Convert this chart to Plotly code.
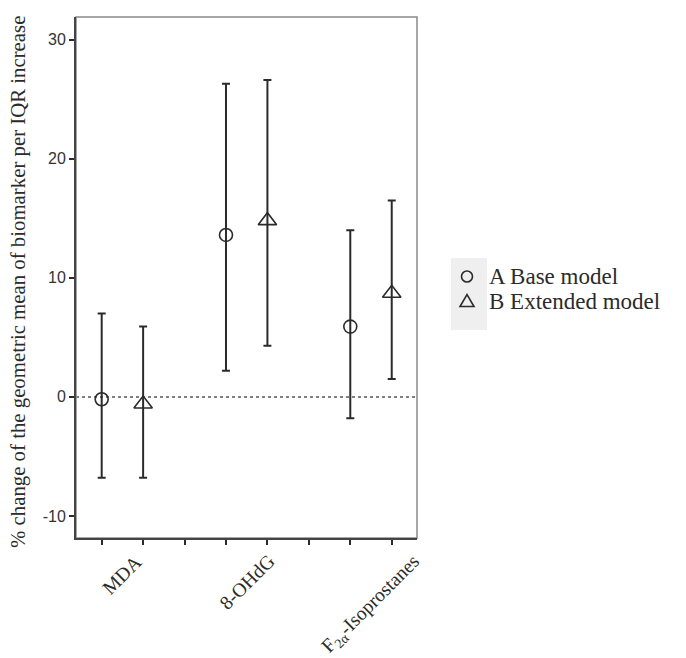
import plotly.graph_objects as go

categories = ["MDA", "8-OHdG", "F<sub>2α</sub>-Isoprostanes"]
series_names = ["A Base model", "B Extended model"]

base_est = [-0.2, 13.6, 5.9]
base_lower = [-6.8, 2.2, -1.8]
base_upper = [7.0, 26.3, 14.0]

ext_est = [-0.6, 14.8, 8.7]
ext_lower = [-6.8, 4.3, 1.5]
ext_upper = [5.9, 26.6, 16.5]

ytick_vals = [-10, 0, 10, 20, 30]
ytick_text = ["-10", "0", "10", "20", "30"]

ink = "#2b2b2b"
serif = "Liberation Serif, Times New Roman, serif"
sans = "Liberation Sans, Arial, sans-serif"

# plot area in pixels (for placing paper-referenced decorations)
L, R, T, B = 76, 417, 17, 538
W, H = R - L, B - T
def px(xp):
    return (xp - L) / W
def py(yp):
    return (B - yp) / H

n = len(categories)
x_base = [3 * i + 1 for i in range(n)]
x_ext = [3 * i + 2 for i in range(n)]
x_centers = [3 * i + 1.5 for i in range(n)]

fig = go.Figure()

def add_series(xs, est, lo, hi, name, symbol, size):
    fig.add_trace(go.Scatter(
        x=xs, y=est, mode="markers", name=name, showlegend=False,
        marker=dict(symbol=symbol, size=size, color=ink, line=dict(width=1.6, color=ink)),
        error_y=dict(type="data", symmetric=False,
                     array=[h - e for h, e in zip(hi, est)],
                     arrayminus=[e - l for e, l in zip(est, lo)],
                     color=ink, thickness=2, width=4),
    ))

add_series(x_base, base_est, base_lower, base_upper, series_names[0], "circle-open", 13)
add_series(x_ext, ext_est, ext_lower, ext_upper, series_names[1], "triangle-up-open", 16)

# zero reference line
fig.add_shape(type="line", xref="paper", x0=0, x1=1, yref="y", y0=0, y1=0,
              line=dict(color="#555555", width=1.5, dash="dot"), layer="below")
# grey frame (top/right)
fig.add_shape(type="rect", xref="paper", yref="paper", x0=0, x1=1, y0=0, y1=1,
              line=dict(color="#8a8a8a", width=1.5), layer="below")

# legend: light background behind symbols, symbols, labels
fig.add_shape(type="rect", xref="paper", yref="paper",
              x0=px(451), x1=px(487), y0=py(330), y1=py(258),
              line=dict(width=0), fillcolor="#efefef", layer="below")
leg_sym_x = 467
leg_rows = [276.5, 301.5]
fig.add_shape(type="circle", xref="paper", yref="paper",
              xsizemode="pixel", ysizemode="pixel",
              xanchor=px(leg_sym_x), yanchor=py(leg_rows[0]),
              x0=-5.5, x1=5.5, y0=-5.5, y1=5.5,
              line=dict(color=ink, width=1.6))
fig.add_shape(type="path", xref="paper", yref="paper",
              xsizemode="pixel", ysizemode="pixel",
              xanchor=px(leg_sym_x), yanchor=py(leg_rows[1]),
              path="M -7,-5 L 7,-5 L 0,7 Z",
              line=dict(color=ink, width=1.6))
for yrow, name in zip(leg_rows, series_names):
    fig.add_annotation(x=px(487), xref="paper", y=py(yrow), yref="paper",
                       text=name, showarrow=False, xanchor="left", yanchor="middle",
                       font=dict(family=serif, size=23, color=ink))

for xc, cat in zip(x_centers, categories):
    fig.add_annotation(x=xc, xref="x", y=0, yref="paper", yshift=-10,
                       text=cat, textangle=-45, showarrow=False,
                       xanchor="center", yanchor="top",
                       font=dict(family=serif, size=19.5, color=ink))

fig.add_annotation(x=px(18), xref="paper", y=py(282), yref="paper",
                   text="% change of the geometric mean of biomarker per IQR increase",
                   textangle=-90, showarrow=False, xanchor="center", yanchor="middle",
                   font=dict(family=serif, size=20.8, color=ink))

fig.update_layout(
    width=686, height=658,
    margin=dict(l=L, r=686 - R, t=T, b=658 - B),
    paper_bgcolor="white", plot_bgcolor="white",
    showlegend=False,
    xaxis=dict(range=[0.38, 8.61], tickvals=list(range(1, 3 * n)), showticklabels=False,
               ticks="outside", ticklen=5, tickwidth=2, tickcolor=ink,
               showline=True, linecolor="#444444", linewidth=2,
               showgrid=False, zeroline=False),
    yaxis=dict(range=[-11.85, 31.9], tickvals=ytick_vals, ticktext=ytick_text,
               ticks="outside", ticklen=5, tickwidth=2, tickcolor=ink,
               tickfont=dict(family=sans, size=16, color="#333333"),
               showline=True, linecolor="#444444", linewidth=2,
               showgrid=False, zeroline=False),
)

fig.write_html("out.html")
